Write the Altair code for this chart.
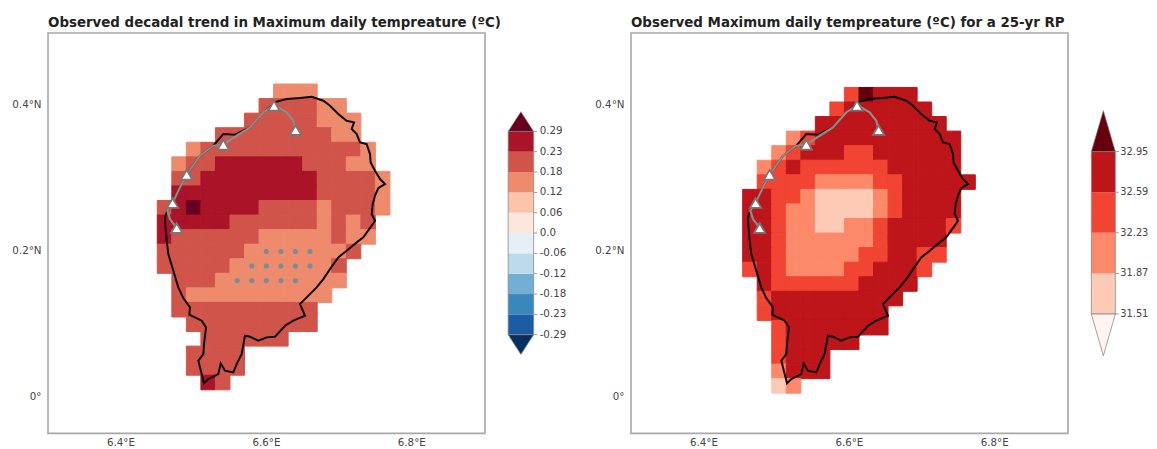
import altair as alt
import pandas as pd

# ---- shared map geometry (degrees) ----
LON_DOMAIN = [6.3003, 6.9014]
LAT_DOMAIN = [-0.0512, 0.4988]
CELL = 0.02

# ---- gridded fields: (first column, one letter per cell) from north to south ----
LEFT_LON0, LEFT_LAT0 = 6.4506, 0.4287
LEFT_ROWS = [
    (8, "ooo"),
    (7, "mmmmoo"),
    (6, "mmmmmooo"),
    (4, "mmmmmmmmoo"),
    (2, "ommmmmmmmmmmo"),
    (1, "ommDDDDDDmmmoo"),
    (1, "mmDDDDDDDDmmmmo"),
    (1, "DDDDDDDDDDmmmmo"),
    (0, "mDXDDDDmmmmommmo"),
    (0, "DDDDDmmmmmmomom"),
    (0, "Dmmmmmmooooomoo"),
    (0, "mmmmmmooooooom"),
    (0, "mmmmmooooooom"),
    (1, "mmmooooooooo"),
    (1, "moooooooooo"),
    (1, "mmmmmmmmmm"),
    (2, "mmmmmmmmm"),
    (3, "mmmmmm"),
    (2, "mmmm"),
    (2, "mmmm"),
    (3, "Dm"),
]
LEFT_LEVELS = {"o": 0.15, "m": 0.20, "D": 0.26, "X": 0.31}
LEFT_THRESHOLDS = [-0.29, -0.23, -0.18, -0.12, -0.06, 0.0, 0.06, 0.12, 0.18, 0.23, 0.29]
LEFT_COLORS = ["#053061", "#1a5da3", "#3a87bd", "#72afd3", "#bcdaea", "#e5eff5",
               "#fde7dd", "#fcc5ab", "#ee8b6d", "#d1544a", "#ab1328", "#67001f"]

RIGHT_LON0, RIGHT_LAT0 = 6.4539, 0.4240
RIGHT_ROWS = [
    (7, "eXddd"),
    (6, "edddddd"),
    (5, "ddddddddd"),
    (3, "oedddddddddd"),
    (2, "oedddeedddddd"),
    (1, "oedeeeeeeddddd"),
    (1, "eeeeooooeeddddd"),
    (0, "ddeeoppppoedddd"),
    (0, "ddeooppppoedddd"),
    (0, "ddeooppooedddde"),
    (0, "ddeooooooedddd"),
    (0, "ddeoooooeeddee"),
    (0, "edeooooeeddde"),
    (1, "deeeeeedddd"),
    (1, "eddddddddd"),
    (1, "edddddddd"),
    (2, "eddddddd"),
    (2, "eddddd"),
    (2, "eddd"),
    (2, "oddd"),
    (2, "po"),
]
RIGHT_LEVELS = {"p": 31.70, "o": 32.05, "e": 32.40, "d": 32.80, "X": 33.05}
RIGHT_THRESHOLDS = [31.51, 31.87, 32.23, 32.59, 32.95]
RIGHT_COLORS = ["#fff5f0", "#fdcab5", "#fc8a6a", "#f14432", "#bd151a", "#67000d"]

# ---- significance stippling: (row, first column, last column) ----
STIPPLE_ROWS = [(11, 7, 10), (12, 6, 10), (13, 5, 9)]

# ---- island outline ----
OUTLINE_LON = [6.6112, 6.6286, 6.6469, 6.6629, 6.6790, 6.6882, 6.6996, 6.7111, 6.7212, 6.7180,
               6.7249, 6.7294, 6.7386, 6.7432, 6.7441, 6.7501, 6.7570, 6.7638, 6.7547, 6.7501,
               6.7469, 6.7455, 6.7501, 6.7455, 6.7340, 6.7249, 6.7111, 6.6996, 6.6882, 6.6790,
               6.6698, 6.6561, 6.6469, 6.6538, 6.6377, 6.6263, 6.6125, 6.6011, 6.5896, 6.5781,
               6.5712, 6.5667, 6.5598, 6.5552, 6.5437, 6.5378, 6.5346, 6.5208, 6.5149, 6.5117,
               6.5071, 6.5139, 6.5149, 6.5176, 6.5117, 6.4947, 6.4956, 6.4864, 6.4795, 6.4727,
               6.4658, 6.4635, 6.4612, 6.4612, 6.4644, 6.4717, 6.4818, 6.4910, 6.5094, 6.5277,
               6.5414, 6.5575, 6.5781, 6.5965, 6.6112]
OUTLINE_LAT = [0.4035, 0.4081, 0.4094, 0.4113, 0.4058, 0.3989, 0.3875, 0.3783, 0.3760, 0.3669,
               0.3600, 0.3485, 0.3463, 0.3325, 0.3211, 0.3096, 0.2982, 0.2913, 0.2858, 0.2753,
               0.2638, 0.2501, 0.2409, 0.2341, 0.2180, 0.2112, 0.1997, 0.1906, 0.1745, 0.1608,
               0.1494, 0.1356, 0.1265, 0.1104, 0.1036, 0.0967, 0.0816, 0.0807, 0.0761, 0.0816,
               0.0830, 0.0578, 0.0440, 0.0326, 0.0349, 0.0450, 0.0303, 0.0234, 0.0175, 0.0303,
               0.0486, 0.0578, 0.0715, 0.0944, 0.1036, 0.1118, 0.1219, 0.1347, 0.1494, 0.1723,
               0.1951, 0.2135, 0.2409, 0.2455, 0.2547, 0.2652, 0.2867, 0.3041, 0.3302, 0.3440,
               0.3600, 0.3591, 0.3691, 0.3897, 0.4012]

# ---- grey ridge line and the stations on it ----
RIDGE_LON = [6.4773, 6.4681, 6.4644, 6.4717, 6.4818, 6.4910, 6.5094, 6.5277, 6.5414, 6.5598,
             6.5781, 6.5965, 6.6112, 6.6286, 6.6377, 6.6409]
RIDGE_LAT = [0.2309, 0.2432, 0.2547, 0.2652, 0.2867, 0.3041, 0.3302, 0.3440, 0.3453, 0.3577,
             0.3691, 0.3897, 0.3998, 0.3897, 0.3783, 0.3655]
STATION_LON = [6.6112, 6.6409, 6.5414, 6.4910, 6.4717, 6.4773]
STATION_LAT = [0.3989, 0.3655, 0.3453, 0.3041, 0.2652, 0.2309]

# ---- colour bars ----
LEFT_TICKS = ["-0.29", "-0.23", "-0.18", "-0.12", "-0.06", "0.0", "0.06", "0.12", "0.18", "0.23", "0.29"]
RIGHT_TICKS = ["31.51", "31.87", "32.23", "32.59", "32.95"]

TITLE_LEFT = "Observed decadal trend in Maximum daily tempreature (ºC)"
TITLE_RIGHT = "Observed Maximum daily tempreature (ºC) for a 25-yr RP"

FONT = "DejaVu Sans"
LABEL_SIZE = 10.3
FRAME = alt.ViewConfig(stroke="#a8a8a8", strokeWidth=1.6, fill="white")
NOFRAME = alt.ViewConfig(stroke=None)


def cells(rows, levels, lon0, lat0):
    out = []
    for r, (start, letters) in enumerate(rows):
        for k, letter in enumerate(letters):
            c = start + k
            out.append({
                "lon": lon0 + CELL * c, "lon2": lon0 + CELL * (c + 1),
                "lat": lat0 - CELL * r, "lat2": lat0 - CELL * (r + 1),
                "value": levels[letter],
            })
    return pd.DataFrame(out)


def make_map(rows, levels, thresholds, colors, lon0, lat0, title, stipple=False):
    xs = alt.Scale(domain=LON_DOMAIN, nice=False, zero=False)
    ys = alt.Scale(domain=LAT_DOMAIN, nice=False, zero=False)
    x_axis = alt.Axis(values=[6.4, 6.6, 6.8], labelExpr="format(datum.value, '.1f') + '°E'",
                      ticks=False, domain=False, grid=False, title=None, labelPadding=4,
                      labelFontSize=LABEL_SIZE, labelColor="#444444", labelFont=FONT)
    y_axis = alt.Axis(values=[0, 0.2, 0.4],
                      labelExpr="datum.value == 0 ? '0°' : format(datum.value, '.1f') + '°N'",
                      ticks=False, domain=False, grid=False, title=None, labelPadding=7,
                      labelFontSize=LABEL_SIZE, labelColor="#444444", labelFont=FONT)
    X = alt.X("lon:Q", scale=xs, axis=x_axis)
    Y = alt.Y("lat:Q", scale=ys, axis=y_axis)
    cscale = alt.Scale(type="threshold", domain=thresholds, range=colors)
    grid = alt.Chart(cells(rows, levels, lon0, lat0)).mark_rect(strokeWidth=1).encode(
        x=X, x2="lon2:Q", y=Y, y2="lat2:Q",
        color=alt.Color("value:Q", scale=cscale, legend=None),
        stroke=alt.Stroke("value:Q", scale=cscale, legend=None),
    )
    layers = [grid]
    if stipple:
        dots = [{"lon": lon0 + CELL * (c + 0.5), "lat": lat0 - CELL * (r + 0.5)}
                for r, c0, c1 in STIPPLE_ROWS for c in range(c0, c1 + 1)]
        layers.append(alt.Chart(pd.DataFrame(dots)).mark_circle(size=26, color="#7a8c98", opacity=1)
                      .encode(x=X, y=Y))
    outline = pd.DataFrame({"lon": OUTLINE_LON, "lat": OUTLINE_LAT, "o": range(len(OUTLINE_LON))})
    layers.append(alt.Chart(outline).mark_line(color="#0a0a0a", strokeWidth=2)
                  .encode(x=X, y=Y, order="o:Q"))
    ridge = pd.DataFrame({"lon": RIDGE_LON, "lat": RIDGE_LAT, "o": range(len(RIDGE_LON))})
    layers.append(alt.Chart(ridge).mark_line(color="#8c8c8c", strokeWidth=2.2)
                  .encode(x=X, y=Y, order="o:Q"))
    stations = pd.DataFrame({"lon": STATION_LON, "lat": STATION_LAT})
    layers.append(alt.Chart(stations).mark_point(shape="triangle-up", size=125, filled=True,
                                                 fill="white", stroke="#777777", strokeWidth=1.8,
                                                 opacity=1)
                  .encode(x=X, y=Y))
    return alt.layer(*layers).properties(
        width=437, height=400.4, view=FRAME,
        title=alt.TitleParams(title, anchor="start", frame="group", font=FONT, fontSize=13.4,
                              fontWeight="bold", color="#222222", offset=4),
    )


def make_bar(ticks, colors, width, height, xdom, ydom, tip_hi, tip_lo, label_size, dx):
    xs = alt.Scale(domain=xdom, nice=False, zero=False)
    ys = alt.Scale(domain=ydom, nice=False, zero=False)
    X = alt.X("x:Q", scale=xs, axis=None)
    Y = alt.Y("y:Q", scale=ys, axis=None)
    n = len(ticks) - 1
    bins = pd.DataFrame({"x": [0] * n, "x2": [1] * n, "y": list(range(n)),
                         "y2": list(range(1, n + 1)), "c": colors[1:-1]})
    rect = alt.Chart(bins).mark_rect(strokeWidth=0).encode(
        x=X, x2="x2:Q", y=Y, y2="y2:Q", color=alt.Color("c:N", scale=None))
    box = alt.Chart(pd.DataFrame({"x": [0], "x2": [1], "y": [0], "y2": [n]})).mark_rect(
        fillOpacity=0, stroke="#8a8a8a", strokeWidth=0.8).encode(x=X, x2="x2:Q", y=Y, y2="y2:Q")
    hi = pd.DataFrame({"x": [0, 0.5], "x2": [1, 0.5], "y": [n, tip_hi]})
    lo = pd.DataFrame({"x": [0, 0.5], "x2": [1, 0.5], "y": [0, tip_lo]})
    tri_hi = alt.Chart(hi).mark_area(orient="horizontal", color=colors[-1], stroke="#8a8a8a",
                                     strokeWidth=0.6).encode(x=X, x2="x2:Q", y=Y)
    tri_lo = alt.Chart(lo).mark_area(orient="horizontal", color=colors[0], stroke="#8a8a8a",
                                     strokeWidth=0.8).encode(x=X, x2="x2:Q", y=Y)
    t = pd.DataFrame({"x": [1] * (n + 1), "y": list(range(n + 1)), "label": ticks})
    tick = alt.Chart(t).mark_tick(orient="horizontal", color="#555555", size=3, thickness=0.8,
                                  xOffset=2).encode(x=X, y=Y)
    text = alt.Chart(t).mark_text(align="left", baseline="middle", dx=dx, font=FONT, fontSize=label_size,
                                  color="#444444").encode(x=X, y=Y, text="label:N")
    return alt.layer(rect, box, tri_hi, tri_lo, tick, text).properties(
        width=width, height=height, view=NOFRAME)


left = make_map(LEFT_ROWS, LEFT_LEVELS, LEFT_THRESHOLDS, LEFT_COLORS, LEFT_LON0, LEFT_LAT0, TITLE_LEFT, True)
right = make_map(RIGHT_ROWS, RIGHT_LEVELS, RIGHT_THRESHOLDS, RIGHT_COLORS, RIGHT_LON0, RIGHT_LAT0, TITLE_RIGHT)
lbar = make_bar(LEFT_TICKS, LEFT_COLORS, 146, 400.4, [-0.908, 4.818], [-4.855, 14.84], 10.97, -0.97, LABEL_SIZE, 6)
rbar = make_bar(RIGHT_TICKS, RIGHT_COLORS, 80, 400.4, [-0.973, 2.36], [-2.94, 6.92], 5.01, -1.03, 9.8, 5)

chart = alt.hconcat(left, lbar, right, rbar, spacing=0, bounds="flush").properties(
    padding={"left": 2, "top": 6, "right": 0, "bottom": 0}
).resolve_scale(color="independent", stroke="independent", x="independent", y="independent"
).configure_view(strokeWidth=0)

chart.save("out.html", embed_options={"renderer": "svg", "actions": False})
